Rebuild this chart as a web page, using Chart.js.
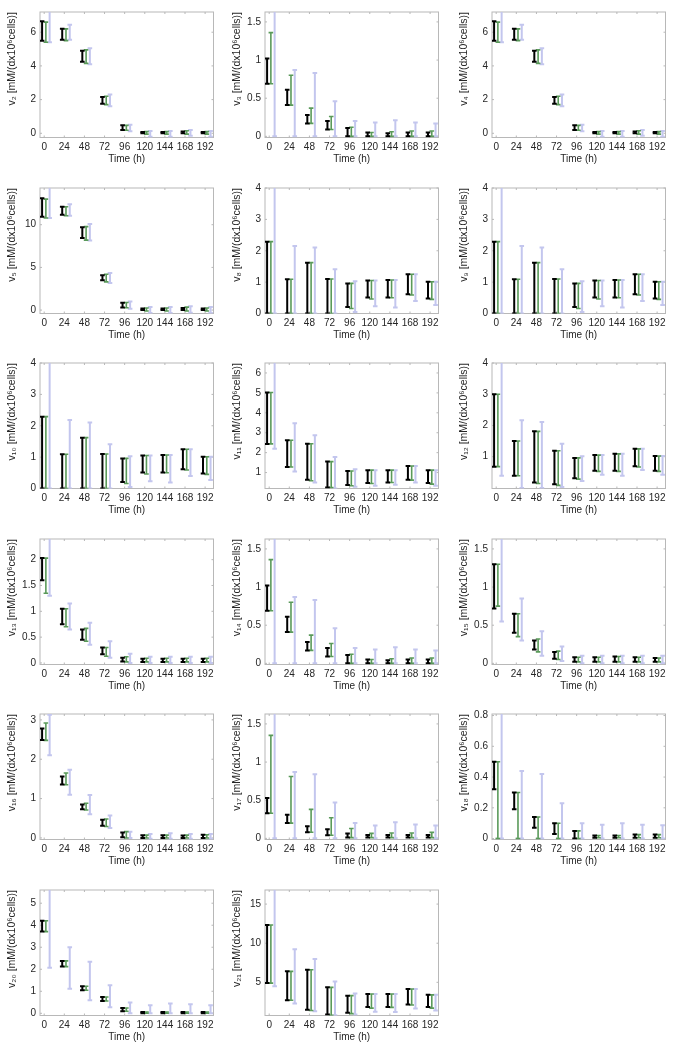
<!DOCTYPE html>
<html>
<head>
<meta charset="utf-8">
<script src="https://cdn.jsdelivr.net/npm/chart.js@4.4.0/dist/chart.umd.min.js"></script>
<style>
  body { margin: 0; background: #fff; }
  #grid { position: relative; width: 685px; height: 1049px; }
  .panel { position: absolute; width: 228px; height: 175px; }
</style>
</head>
<body>
<div id="grid"></div>
<script>
const times = [0, 24, 48, 72, 96, 120, 144, 168, 192];

// each entry is [low, high] at the matching time point
const v2Black = [[5.5, 6.65], [5.55, 6.2], [4.25, 4.9], [1.75, 2.15], [0.2, 0.47], [0, 0.08], [0, 0.08], [0, 0.1], [0, 0.08]];
const v2Green = [[5.4, 6.6], [5.5, 6.2], [4.15, 4.95], [1.7, 2.2], [0.18, 0.47], [-0.05, 0.1], [-0.05, 0.1], [-0.05, 0.15], [-0.05, 0.1]];
const v2Blue  = [[5.4, 7.4], [5.55, 6.45], [4.1, 5.05], [1.6, 2.3], [0.12, 0.5], [-0.2, 0.14], [-0.2, 0.14], [-0.15, 0.2], [-0.2, 0.14]];
const v2Ticks = [0, 2, 4, 6];

const v3Black = [[0.69, 1.02], [0.41, 0.61], [0.17, 0.28], [0.09, 0.2], [0, 0.11], [0, 0.05], [0, 0.04], [0, 0.05], [0, 0.05]];
const v3Green = [[0.69, 1.36], [0.41, 0.8], [0.17, 0.37], [0.09, 0.26], [0, 0.12], [0, 0.05], [0, 0.06], [0, 0.07], [0, 0.07]];
const v3Blue  = [[0, 1.8], [0, 0.87], [0, 0.83], [0, 0.46], [0, 0.2], [0, 0.18], [0, 0.21], [0, 0.18], [0, 0.17]];
const v3Ticks = [0, 0.5, 1, 1.5];

const v4Black = [[5.5, 6.65], [5.55, 6.2], [4.25, 4.9], [1.75, 2.15], [0.2, 0.47], [0, 0.08], [0, 0.08], [0, 0.1], [0, 0.08]];
const v4Green = [[5.4, 6.6], [5.5, 6.2], [4.15, 4.95], [1.7, 2.2], [0.18, 0.47], [-0.05, 0.1], [-0.05, 0.1], [-0.05, 0.15], [-0.05, 0.1]];
const v4Blue  = [[5.4, 7.4], [5.55, 6.45], [4.1, 5.05], [1.6, 2.3], [0.12, 0.5], [-0.2, 0.14], [-0.2, 0.14], [-0.15, 0.2], [-0.2, 0.14]];
const v4Ticks = [0, 2, 4, 6];

const v5Black = [[10.93, 13.1], [11.16, 12.1], [8.45, 9.7], [3.49, 4.07], [0.31, 0.85], [0, 0.2], [0, 0.2], [0, 0.25], [0, 0.2]];
const v5Green = [[10.78, 13.0], [11.05, 12.1], [8.2, 9.77], [3.3, 4.19], [0.27, 0.89], [-0.1, 0.25], [-0.1, 0.25], [-0.1, 0.35], [-0.1, 0.25]];
const v5Blue  = [[10.8, 14.6], [11.05, 12.4], [8.14, 10.08], [3.18, 4.34], [0.15, 1.0], [-0.35, 0.35], [-0.35, 0.35], [-0.3, 0.45], [-0.35, 0.35]];
const v5Ticks = [0, 5, 10];

const v8Black = [[0, 2.29], [0, 1.09], [0, 1.62], [0, 1.1], [0.21, 0.96], [0.51, 1.05], [0.51, 1.07], [0.61, 1.25], [0.48, 1.01]];
const v8Green = [[0, 2.29], [0, 1.09], [0, 1.62], [0, 1.1], [0.16, 0.96], [0.46, 1.05], [0.5, 1.07], [0.59, 1.25], [0.45, 1.01]];
const v8Blue  = [[0, 4.3], [0, 2.15], [0, 2.1], [0, 1.41], [0.05, 1.03], [0.23, 1.05], [0.19, 1.07], [0.4, 1.25], [0.27, 1.01]];
const v8Ticks = [0, 1, 2, 3, 4];

const v9Black = [[0, 2.29], [0, 1.09], [0, 1.62], [0, 1.1], [0.21, 0.96], [0.51, 1.05], [0.51, 1.07], [0.61, 1.25], [0.48, 1.01]];
const v9Green = [[0, 2.29], [0, 1.09], [0, 1.62], [0, 1.1], [0.16, 0.96], [0.46, 1.05], [0.5, 1.07], [0.59, 1.25], [0.45, 1.01]];
const v9Blue  = [[0, 4.3], [0, 2.15], [0, 2.1], [0, 1.41], [0.05, 1.03], [0.23, 1.05], [0.19, 1.07], [0.4, 1.25], [0.27, 1.01]];
const v9Ticks = [0, 1, 2, 3, 4];

const v10Black = [[0, 2.29], [0, 1.09], [0, 1.62], [0, 1.1], [0.21, 0.96], [0.51, 1.05], [0.51, 1.07], [0.61, 1.25], [0.48, 1.01]];
const v10Green = [[0, 2.29], [0, 1.09], [0, 1.62], [0, 1.1], [0.16, 0.96], [0.46, 1.05], [0.5, 1.07], [0.59, 1.25], [0.45, 1.01]];
const v10Blue  = [[0, 4.3], [0, 2.18], [0, 2.1], [0, 1.41], [0.05, 1.03], [0.23, 1.05], [0.19, 1.07], [0.4, 1.25], [0.27, 1.01]];
const v10Ticks = [0, 1, 2, 3, 4];

const v11Black = [[2.44, 5.02], [1.28, 2.62], [0.64, 2.45], [0.25, 1.55], [0.37, 1.08], [0.47, 1.12], [0.5, 1.12], [0.64, 1.33], [0.47, 1.12]];
const v11Green = [[2.44, 5.02], [1.28, 2.62], [0.59, 2.45], [0.25, 1.55], [0.34, 1.08], [0.45, 1.12], [0.5, 1.12], [0.62, 1.33], [0.42, 1.12]];
const v11Blue  = [[2.2, 6.8], [1.05, 3.48], [0.5, 2.87], [0.2, 1.78], [0.29, 1.17], [0.34, 1.12], [0.39, 1.12], [0.5, 1.33], [0.34, 1.12]];
const v11Ticks = [1, 2, 3, 4, 5, 6];

const v12Black = [[0.68, 3.0], [0.39, 1.5], [0.17, 1.81], [0.12, 1.19], [0.31, 0.96], [0.55, 1.05], [0.55, 1.09], [0.69, 1.25], [0.55, 1.02]];
const v12Green = [[0.68, 3.0], [0.39, 1.5], [0.14, 1.81], [0.08, 1.19], [0.28, 0.96], [0.53, 1.05], [0.53, 1.09], [0.67, 1.25], [0.53, 1.02]];
const v12Blue  = [[0.39, 4.3], [0, 2.17], [0, 2.11], [0.03, 1.41], [0.22, 1.01], [0.42, 1.05], [0.39, 1.09], [0.57, 1.25], [0.42, 1.02]];
const v12Ticks = [1, 2, 3, 4];

const v13Black = [[1.6, 2.03], [0.75, 1.05], [0.45, 0.65], [0.17, 0.3], [0.03, 0.1], [0.02, 0.08], [0.02, 0.08], [0.02, 0.08], [0.02, 0.08]];
const v13Green = [[1.35, 2.03], [0.7, 1.05], [0.42, 0.67], [0.13, 0.3], [0.02, 0.12], [0.02, 0.09], [0.02, 0.09], [0.02, 0.09], [0.02, 0.09]];
const v13Blue  = [[1.3, 2.5], [0.65, 1.15], [0.35, 0.78], [0.1, 0.42], [0, 0.18], [0, 0.12], [0, 0.12], [0, 0.12], [0, 0.12]];
const v13Ticks = [0, 0.5, 1, 1.5, 2];

const v14Black = [[0.69, 1.02], [0.41, 0.61], [0.17, 0.28], [0.09, 0.2], [0, 0.11], [0, 0.05], [0, 0.04], [0, 0.05], [0, 0.05]];
const v14Green = [[0.69, 1.36], [0.41, 0.8], [0.17, 0.37], [0.09, 0.26], [0, 0.12], [0, 0.05], [0, 0.06], [0, 0.07], [0, 0.07]];
const v14Blue  = [[0, 1.8], [0, 0.87], [0, 0.83], [0, 0.46], [0, 0.2], [0, 0.18], [0, 0.21], [0, 0.18], [0, 0.17]];
const v14Ticks = [0, 0.5, 1, 1.5];

const v15Black = [[0.72, 1.3], [0.4, 0.65], [0.18, 0.3], [0.06, 0.15], [0.02, 0.08], [0.02, 0.08], [0.02, 0.09], [0.02, 0.08], [0.02, 0.07]];
const v15Green = [[0.75, 1.3], [0.35, 0.65], [0.15, 0.32], [0.05, 0.16], [0.02, 0.08], [0.02, 0.08], [0.02, 0.09], [0.02, 0.08], [0.02, 0.07]];
const v15Blue  = [[0.55, 1.8], [0.3, 0.85], [0.1, 0.42], [0.03, 0.22], [0, 0.1], [0, 0.1], [0, 0.1], [0, 0.1], [0, 0.1]];
const v15Ticks = [0, 0.5, 1, 1.5];

const v16Black = [[2.49, 2.78], [1.36, 1.56], [0.73, 0.85], [0.31, 0.46], [0.02, 0.14], [0, 0.07], [0, 0.07], [0, 0.06], [0, 0.08]];
const v16Green = [[2.48, 2.92], [1.35, 1.65], [0.71, 0.88], [0.29, 0.48], [0, 0.16], [0, 0.07], [0, 0.07], [0, 0.07], [0, 0.08]];
const v16Blue  = [[2.1, 3.13], [1.1, 1.73], [0.6, 1.09], [0.25, 0.57], [0, 0.16], [-0.02, 0.1], [-0.02, 0.12], [-0.02, 0.1], [-0.02, 0.1]];
const v16Ticks = [0, 1, 2, 3];

const v17Black = [[0.33, 0.53], [0.2, 0.31], [0.08, 0.16], [0.04, 0.12], [0.01, 0.065], [0.01, 0.043], [0.01, 0.043], [0.01, 0.043], [0.01, 0.043]];
const v17Green = [[0.33, 1.35], [0.2, 0.81], [0.08, 0.38], [0.04, 0.27], [0.01, 0.13], [0.01, 0.065], [0.01, 0.07], [0.01, 0.07], [0.01, 0.078]];
const v17Blue  = [[0, 1.8], [0, 0.87], [0, 0.84], [0, 0.47], [0, 0.2], [0, 0.17], [0, 0.21], [0, 0.18], [0, 0.17]];
const v17Ticks = [0, 0.5, 1, 1.5];

const v18Black = [[0.32, 0.5], [0.19, 0.3], [0.07, 0.14], [0.03, 0.1], [0, 0.05], [0.005, 0.02], [0.005, 0.02], [0.005, 0.026], [0.005, 0.026]];
const v18Green = [[0, 0.5], [0, 0.3], [0, 0.14], [0, 0.1], [0, 0.05], [0.005, 0.02], [0.005, 0.02], [0.005, 0.026], [0.005, 0.026]];
const v18Blue  = [[0, 0.85], [0, 0.44], [0, 0.42], [0, 0.23], [0, 0.1], [0, 0.09], [0, 0.1], [0, 0.09], [0, 0.087]];
const v18Ticks = [0, 0.2, 0.4, 0.6, 0.8];

const v20Black = [[3.71, 4.2], [2.12, 2.38], [1.05, 1.23], [0.56, 0.74], [0.09, 0.24], [0, 0.06], [0, 0.06], [0, 0.06], [0, 0.06]];
const v20Green = [[3.71, 4.2], [2.12, 2.38], [1.05, 1.23], [0.56, 0.74], [0.09, 0.24], [0, 0.06], [0, 0.06], [0, 0.06], [0, 0.06]];
const v20Blue  = [[2.07, 5.7], [1.11, 3.0], [0.59, 2.34], [0.27, 1.27], [0, 0.49], [0, 0.37], [0, 0.44], [0, 0.41], [0, 0.37]];
const v20Ticks = [0, 1, 2, 3, 4, 5];

const v21Black = [[4.9, 12.33], [2.7, 6.4], [1.5, 6.6], [0.9, 4.36], [1.1, 3.3], [1.86, 3.5], [1.86, 3.5], [2.16, 4.15], [1.86, 3.4]];
const v21Green = [[4.9, 12.33], [2.7, 6.4], [1.4, 6.6], [0.8, 4.36], [1.0, 3.3], [1.7, 3.5], [1.8, 3.5], [2.1, 4.15], [1.7, 3.4]];
const v21Blue  = [[4.5, 17.5], [2.3, 9.24], [1.3, 7.97], [0.8, 5.1], [0.9, 3.56], [1.23, 3.5], [1.2, 3.5], [1.65, 4.15], [1.4, 3.4]];
const v21Ticks = [5, 10, 15];

const panels = [
  { n: 2,  black: v2Black,  green: v2Green,  blue: v2Blue,  ticks: v2Ticks,  min: -0.25, max: 7.2 },
  { n: 3,  black: v3Black,  green: v3Green,  blue: v3Blue,  ticks: v3Ticks,  min: -0.015, max: 1.63 },
  { n: 4,  black: v4Black,  green: v4Green,  blue: v4Blue,  ticks: v4Ticks,  min: -0.25, max: 7.2 },
  { n: 5,  black: v5Black,  green: v5Green,  blue: v5Blue,  ticks: v5Ticks,  min: -0.4, max: 14.3 },
  { n: 8,  black: v8Black,  green: v8Green,  blue: v8Blue,  ticks: v8Ticks,  min: 0, max: 4 },
  { n: 9,  black: v9Black,  green: v9Green,  blue: v9Blue,  ticks: v9Ticks,  min: 0, max: 4 },
  { n: 10, black: v10Black, green: v10Green, blue: v10Blue, ticks: v10Ticks, min: 0, max: 4 },
  { n: 11, black: v11Black, green: v11Green, blue: v11Blue, ticks: v11Ticks, min: 0.2, max: 6.5 },
  { n: 12, black: v12Black, green: v12Green, blue: v12Blue, ticks: v12Ticks, min: -0.02, max: 4 },
  { n: 13, black: v13Black, green: v13Green, blue: v13Blue, ticks: v13Ticks, min: -0.03, max: 2.4 },
  { n: 14, black: v14Black, green: v14Green, blue: v14Blue, ticks: v14Ticks, min: -0.015, max: 1.63 },
  { n: 15, black: v15Black, green: v15Green, blue: v15Blue, ticks: v15Ticks, min: -0.015, max: 1.63 },
  { n: 16, black: v16Black, green: v16Green, blue: v16Blue, ticks: v16Ticks, min: -0.04, max: 3.15 },
  { n: 17, black: v17Black, green: v17Green, blue: v17Blue, ticks: v17Ticks, min: -0.015, max: 1.63 },
  { n: 18, black: v18Black, green: v18Green, blue: v18Blue, ticks: v18Ticks, min: -0.006, max: 0.81 },
  { n: 20, black: v20Black, green: v20Green, blue: v20Blue, ticks: v20Ticks, min: -0.1, max: 5.6 },
  { n: 21, black: v21Black, green: v21Green, blue: v21Blue, ticks: v21Ticks, min: 0.76, max: 16.8 }
];

const colLeft = [0, 225, 451.5];
const rowStep = 175.6;
const font = "'Liberation Sans', Arial, Helvetica, sans-serif";
const textColor = '#262626';

function sub(n) {
  return String(n).split('').map(d => String.fromCharCode(0x2080 + Number(d))).join('');
}

// each interval becomes two points joined by a line, broken by a null point
function series(pairs, offset, color, width) {
  const pts = [];
  pairs.forEach((p, i) => {
    const x = times[i] + offset;
    pts.push({ x, y: p[0] }, { x, y: p[1] }, { x, y: null });
  });
  return {
    data: pts,
    borderColor: color,
    borderWidth: width,
    borderCapStyle: 'butt',
    spanGaps: false,
    tension: 0,
    fill: false,
    clip: 0,
    pointStyle: 'line',
    pointRadius: 2.3,
    pointBorderWidth: width,
    pointBorderColor: color,
    pointBackgroundColor: color
  };
}

// light grey box with small inward ticks
const frame = {
  id: 'frame',
  beforeDatasetsDraw(chart) {
    const { ctx, chartArea: a, scales: { x, y } } = chart;
    ctx.save();
    ctx.strokeStyle = '#b8b8b8';
    ctx.lineWidth = 1;
    ctx.strokeRect(a.left, a.top, a.right - a.left, a.bottom - a.top);
    ctx.beginPath();
    x.ticks.forEach(t => {
      const px = x.getPixelForValue(t.value);
      ctx.moveTo(px, a.bottom); ctx.lineTo(px, a.bottom - 2);
      ctx.moveTo(px, a.top); ctx.lineTo(px, a.top + 2);
    });
    y.ticks.forEach(t => {
      const py = y.getPixelForValue(t.value);
      ctx.moveTo(a.left, py); ctx.lineTo(a.left + 2, py);
      ctx.moveTo(a.right, py); ctx.lineTo(a.right - 2, py);
    });
    ctx.stroke();
    ctx.restore();
  }
};

const grid = document.getElementById('grid');

panels.forEach((p, i) => {
  const box = document.createElement('div');
  box.className = 'panel';
  box.style.left = colLeft[i % 3] + 'px';
  box.style.top = (Math.floor(i / 3) * rowStep) + 'px';
  const canvas = document.createElement('canvas');
  box.appendChild(canvas);
  grid.appendChild(box);

  new Chart(canvas, {
    type: 'line',
    data: {
      datasets: [
        series(p.black, -2.5, '#000000', 2),
        series(p.green, 2, '#5a9a5a', 1.6),
        series(p.blue, 6.5, '#c3c6ee', 2)
      ]
    },
    options: {
      animation: false,
      responsive: true,
      maintainAspectRatio: false,
      events: [],
      layout: { padding: { top: 12, right: 14.5, left: 0, bottom: 0 } },
      plugins: { legend: { display: false }, tooltip: { enabled: false } },
      scales: {
        x: {
          type: 'linear',
          min: -5,
          max: 202,
          grid: { display: false, drawTicks: false },
          border: { display: false },
          afterBuildTicks: s => { s.ticks = times.map(v => ({ value: v })); },
          afterFit: s => { s.height = 37.5; },
          ticks: {
            padding: 4, color: textColor, autoSkip: false, maxRotation: 0,
            font: { family: font, size: 10 },
            callback: v => String(v)
          },
          title: {
            display: true, text: 'Time (h)', color: textColor,
            font: { family: font, size: 10 },
            padding: { top: 0, bottom: 10 }
          }
        },
        y: {
          type: 'linear',
          min: p.min,
          max: p.max,
          grid: { display: false, drawTicks: false },
          border: { display: false },
          afterBuildTicks: s => { s.ticks = p.ticks.map(v => ({ value: v })); },
          afterFit: s => { s.width = 40; },
          ticks: {
            padding: 4, color: textColor,
            font: { family: font, size: 10 },
            callback: v => String(v)
          },
          title: {
            display: true, text: 'v' + sub(p.n) + ' [mM/(dx10\u2076cells)]', color: textColor,
            align: 'end',
            font: { family: font, size: 10.5 },
            padding: { top: 6, bottom: 0 }
          }
        }
      }
    },
    plugins: [frame]
  });
});
</script>
</body>
</html>
